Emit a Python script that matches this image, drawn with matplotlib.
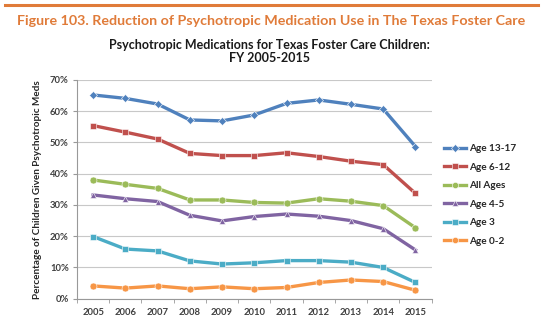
import matplotlib
matplotlib.use("Agg")
import matplotlib.pyplot as plt
from matplotlib.lines import Line2D
from matplotlib.ticker import PercentFormatter

plt.rcParams['font.family'] = ['Lato', 'DejaVu Sans']

years = [2005, 2006, 2007, 2008, 2009, 2010, 2011, 2012, 2013, 2014, 2015]
age_13_17 = [65.2, 64.1, 62.3, 57.2, 56.9, 58.8, 62.5, 63.6, 62.2, 60.7, 48.7]
age_6_12 = [55.4, 53.3, 51.1, 46.5, 45.8, 45.8, 46.7, 45.5, 44.0, 42.9, 33.7]
all_ages = [38.0, 36.6, 35.3, 31.6, 31.6, 30.8, 30.6, 32.0, 31.2, 29.8, 22.7]
age_4_5 = [33.2, 32.0, 31.1, 26.7, 24.9, 26.3, 27.1, 26.4, 25.0, 22.4, 15.6]
age_3 = [19.9, 15.9, 15.3, 12.1, 11.1, 11.5, 12.2, 12.2, 11.7, 10.0, 5.2]
age_0_2 = [4.1, 3.4, 4.1, 3.2, 3.8, 3.2, 3.6, 5.2, 6.0, 5.5, 2.7]

series = [
    ("Age 13-17", age_13_17, "#4F81BD", "D"),
    ("Age 6-12", age_6_12, "#C0504D", "s"),
    ("All Ages", all_ages, "#9BBB59", "o"),
    ("Age 4-5", age_4_5, "#8064A2", "^"),
    ("Age 3", age_3, "#4BACC6", "s"),
    ("Age 0-2", age_0_2, "#F79646", "o"),
]

fig = plt.figure(figsize=(5.43, 3.29), dpi=100)
ax = fig.add_axes([0.1418, 0.092, 0.653, 0.665])

for name, vals, col, mk in series:
    ax.plot(years, vals, color=col, lw=2.4, marker=mk, ms=5 if mk != "D" else 4,
            mfc=col, mec="white", mew=0.4, label=name)

ax.set_xlim(2004.5, 2015.5)
ax.set_ylim(0, 70)
ax.set_yticks(range(0, 71, 10))
ax.yaxis.set_major_formatter(PercentFormatter(decimals=0))
ax.set_xticks(years)
ax.set_xticks([y + 0.5 for y in years[:-1]] + [2004.5, 2015.5], minor=True)
ax.tick_params(axis='x', which='major', length=0, pad=7)
ax.tick_params(axis='x', which='minor', length=3, color="#999999")
ax.tick_params(axis='y', length=3, color="#999999", pad=3)
for lbl in ax.get_xticklabels() + ax.get_yticklabels():
    lbl.set_fontsize(6.8)
    lbl.set_fontweight("bold")
    lbl.set_color("#404040")

ax.grid(axis='y', color="#C8C8C8", lw=0.8)
ax.set_axisbelow(True)
for side in ["top", "right"]:
    ax.spines[side].set_visible(False)
ax.spines["left"].set_color("#999999")
ax.spines["bottom"].set_color("#999999")

ax.set_ylabel("Percentage of Children Given Psychotropic Meds", fontsize=7.2,
              fontweight="bold", color="#262626", labelpad=6)

leg = ax.legend(loc="center left", bbox_to_anchor=(1.01, 0.475), frameon=False,
                fontsize=7.2, handlelength=2.2, labelspacing=0.95, handletextpad=0.3,
                markerscale=0.9)
for t in leg.get_texts():
    t.set_fontweight("bold")
    t.set_color("#262626")

# header rule and figure caption
fig.add_artist(Line2D([0.01, 0.99], [0.985, 0.985], color="#E07B39", lw=2.2))
fig.text(0.5, 0.937, "Figure 103. Reduction of Psychotropic Medication Use in The Texas Foster Care",
         ha="center", va="center", fontsize=10.3, fontweight="bold", color="#E07B39")
fig.text(0.497, 0.843, "Psychotropic Medications for Texas Foster Care Children:\nFY 2005-2015",
         ha="center", va="center", fontsize=9, fontweight="bold", color="#1a1a1a",
         linespacing=1.1)

fig.savefig("out.png", dpi=100, facecolor="white")
